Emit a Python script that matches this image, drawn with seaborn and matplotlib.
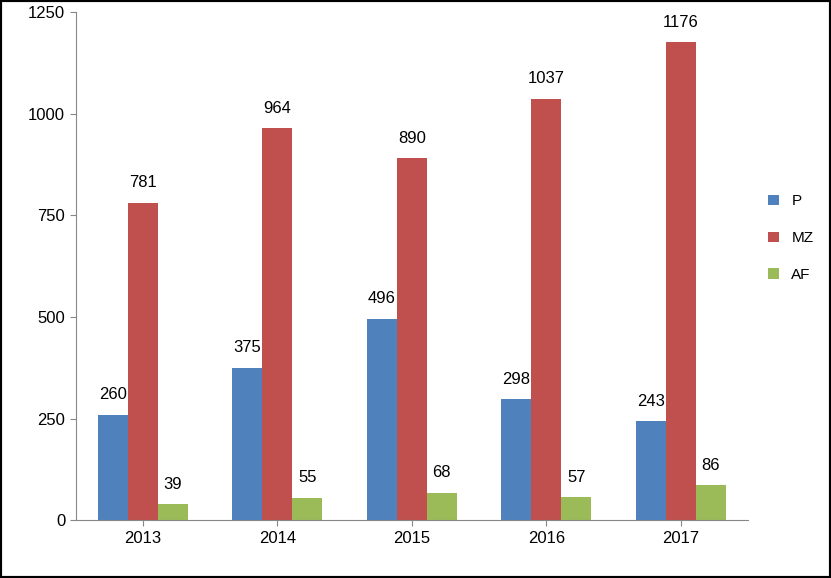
import matplotlib
matplotlib.use("Agg")
import matplotlib.pyplot as plt
import seaborn as sns
import pandas as pd

years = ["2013", "2014", "2015", "2016", "2017"]
series = ["P", "MZ", "AF"]
p_vals = [260, 375, 496, 298, 243]
mz_vals = [781, 964, 890, 1037, 1176]
af_vals = [39, 55, 68, 57, 86]
yticks = [0, 250, 500, 750, 1000, 1250]

rows = []
for s, vals in zip(series, [p_vals, mz_vals, af_vals]):
    for y, v in zip(years, vals):
        rows.append({"year": y, "series": s, "value": v})
df = pd.DataFrame(rows)

plt.rcParams["font.family"] = "Liberation Sans"
fig = plt.figure(figsize=(8.31, 5.78), dpi=100)
ax = fig.add_axes([0.091, 0.10, 0.809, 0.879])
sns.barplot(data=df, x="year", y="value", hue="series", hue_order=series,
            palette=["#4F81BD", "#C0504D", "#9BBB59"], width=0.67,
            saturation=1, ax=ax, errorbar=None)
for c in ax.containers:
    ax.bar_label(c, padding=9, fontsize=12)
ax.set_ylim(0, 1250)
ax.set_yticks(yticks)
ax.tick_params(labelsize=12, length=4, color="#888888")
ax.set_xlabel("")
ax.set_ylabel("")
for s in ["top", "right"]:
    ax.spines[s].set_visible(False)
for s in ["left", "bottom"]:
    ax.spines[s].set_color("#888888")
ax.legend(loc="center left", bbox_to_anchor=(1.01, 0.555), frameon=False,
          fontsize=11, handlelength=0.7, handleheight=0.7, labelspacing=1.5)
fig.patches.append(plt.Rectangle((0, 0), 1, 1, transform=fig.transFigure,
                                 fill=False, edgecolor="black", linewidth=3))
fig.savefig("out.png", dpi=100)
